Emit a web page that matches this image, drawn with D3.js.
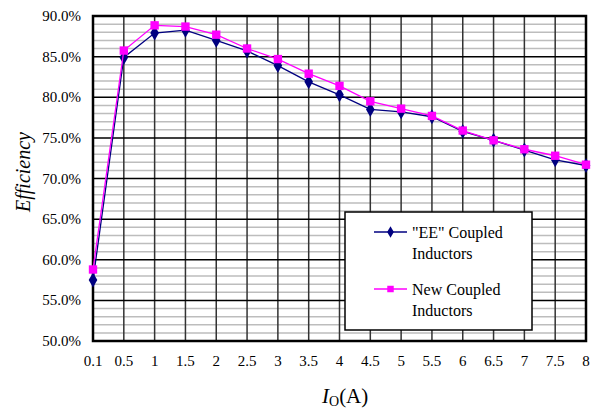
<!DOCTYPE html>
<html lang="en">
<head>
<meta charset="UTF-8">
<title>Efficiency</title>
<style>
  body { margin: 0; background: #fff; }
  svg text { font-family: "Liberation Serif", "DejaVu Serif", serif; }
</style>
</head>
<body>
<svg width="592" height="410"></svg>
<script src="https://d3js.org/d3.v7.min.js"></script>
<script>

var currents = ["0.1", "0.5", "1", "1.5", "2", "2.5", "3", "3.5", "4", "4.5", "5", "5.5", "6", "6.5", "7", "7.5", "8"];
var eeValues = [57.5, 84.9, 87.9, 88.25, 87.0, 85.7, 83.9, 81.9, 80.3, 78.5, 78.2, 77.6, 75.8, 74.7, 73.5, 72.3, 71.6];
var newValues = [58.8, 85.75, 88.85, 88.7, 87.7, 86.0, 84.7, 82.9, 81.4, 79.5, 78.6, 77.7, 75.9, 74.7, 73.6, 72.8, 71.7];
var yTicks = [50, 55, 60, 65, 70, 75, 80, 85, 90];
var legendLabels = [["\"EE\" Coupled", "Inductors"], ["New Coupled", "Inductors"]];

var serif = "'Liberation Serif', 'DejaVu Serif', serif";

var margin = {top: 16, right: 6, bottom: 69, left: 93};
var svg = d3.select("svg");
var width = +svg.attr("width") - margin.left - margin.right;
var height = +svg.attr("height") - margin.top - margin.bottom;

var g = svg.append("g").attr("transform", "translate(" + margin.left + "," + margin.top + ")");

var x = d3.scalePoint().domain(currents).range([0, width]).padding(0);
var y = d3.scaleLinear().domain([50, 90]).range([height, 0]);

// minor gridlines every 1%
g.selectAll(".minor")
    .data(d3.range(51, 90).filter(function(d) { return d % 5 !== 0; }))
    .enter().append("line")
    .attr("x1", 0).attr("x2", width)
    .attr("y1", function(d) { return y(d); }).attr("y2", function(d) { return y(d); })
    .attr("stroke", "#bdbdbd").attr("stroke-width", 1.5);

// vertical gridlines
g.selectAll(".vgrid")
    .data(currents.slice(1, -1))
    .enter().append("line")
    .attr("x1", function(d) { return x(d); }).attr("x2", function(d) { return x(d); })
    .attr("y1", 0).attr("y2", height)
    .attr("stroke", "#333").attr("stroke-width", 1.5);

// major gridlines
g.selectAll(".major")
    .data(yTicks.slice(1, -1))
    .enter().append("line")
    .attr("x1", 0).attr("x2", width)
    .attr("y1", function(d) { return y(d); }).attr("y2", function(d) { return y(d); })
    .attr("stroke", "#000").attr("stroke-width", 1.5);

// frame
g.append("rect")
    .attr("width", width).attr("height", height)
    .attr("fill", "none").attr("stroke", "#000").attr("stroke-width", 2.5);

// y axis labels
g.selectAll(".ylab")
    .data(yTicks)
    .enter().append("text")
    .attr("x", -12).attr("y", function(d) { return y(d) + 5; })
    .attr("text-anchor", "end")
    .style("font-family", serif)
    .style("font-size", "15px")
    .text(function(d) { return d.toFixed(1) + "%"; });

// x axis labels
g.selectAll(".xlab")
    .data(currents)
    .enter().append("text")
    .attr("x", function(d) { return x(d); }).attr("y", height + 25)
    .attr("text-anchor", "middle")
    .style("font-family", serif)
    .style("font-size", "15px")
    .text(function(d) { return d; });

// axis titles
svg.append("text")
    .attr("transform", "translate(30,172) rotate(-90)")
    .attr("text-anchor", "middle")
    .style("font-family", serif)
    .style("font-size", "20px").style("font-style", "italic")
    .text("Efficiency");

var xt = svg.append("text")
    .attr("x", 322).attr("y", 403)
    .style("font-family", serif)
    .style("font-size", "21px");
xt.append("tspan").style("font-style", "italic").text("I");
xt.append("tspan").attr("dy", 3).style("font-size", "14px").text("O");
xt.append("tspan").attr("dy", -3).text("(A)");

// series
var line = d3.line()
    .x(function(d, i) { return x(currents[i]); })
    .y(function(d) { return y(d); });

var series = [
    {values: eeValues, color: "#000080", symbol: d3.symbolDiamond, size: 64},
    {values: newValues, color: "#ff00ff", symbol: d3.symbolSquare, size: 70}
];

series.forEach(function(s) {
    g.append("path")
        .datum(s.values)
        .attr("d", line)
        .attr("fill", "none").attr("stroke", s.color).attr("stroke-width", 1.3);
    g.selectAll(null)
        .data(s.values)
        .enter().append("path")
        .attr("transform", function(d, i) { return "translate(" + x(currents[i]) + "," + y(d) + ")"; })
        .attr("d", d3.symbol().type(s.symbol).size(s.size))
        .attr("fill", s.color);
});

// legend
var lg = svg.append("g").attr("transform", "translate(345,212)");
lg.append("rect")
    .attr("width", 187).attr("height", 118)
    .attr("fill", "#fff").attr("stroke", "#000").attr("stroke-width", 1.5);

series.forEach(function(s, i) {
    var row = lg.append("g").attr("transform", "translate(0," + (i * 57) + ")");
    row.append("line")
        .attr("x1", 29).attr("x2", 62).attr("y1", 20).attr("y2", 20)
        .attr("stroke", s.color).attr("stroke-width", 1.3);
    row.append("path")
        .attr("transform", "translate(45.5,20)")
        .attr("d", d3.symbol().type(s.symbol).size(s.size * 0.6))
        .attr("fill", s.color);
    row.selectAll("text")
        .data(legendLabels[i])
        .enter().append("text")
        .attr("x", 67).attr("y", function(d, j) { return 26 + j * 21; })
        .style("font-family", serif)
        .style("font-size", "16px")
        .text(function(d) { return d; });
});

</script>
</body>
</html>
